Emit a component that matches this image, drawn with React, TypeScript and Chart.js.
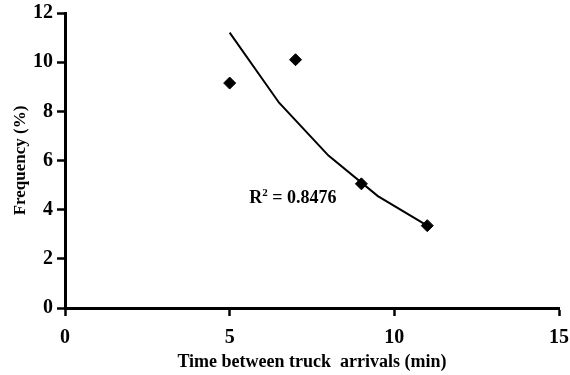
import React, { useEffect, useRef } from "react";
import { Chart, registerables } from "chart.js";

Chart.register(...registerables);

const arrivalTimes = [5, 7, 9, 11];
const frequencies = [9.15, 10.1, 5.05, 3.35];
const trendTimes = [5, 6.5, 8, 9.5, 11];
const trendFrequencies = [11.2, 8.35, 6.2, 4.55, 3.35];
const xTickStep = 5;
const yTickStep = 2;
const r2Label = { base: "R", sup: "2", rest: " = 0.8476", x: 6.92, y: 4.46 };

const FONT = "'Liberation Serif', 'Times New Roman', serif";

const r2Plugin = {
  id: "r2Label",
  afterDatasetsDraw(chart: any) {
    const { ctx, scales } = chart;
    const cx = scales.x.getPixelForValue(r2Label.x);
    const cy = scales.y.getPixelForValue(r2Label.y);
    ctx.save();
    ctx.fillStyle = "#000";
    ctx.textBaseline = "middle";
    const mainFont = `bold 18px ${FONT}`;
    const supFont = `bold 11px ${FONT}`;
    ctx.font = mainFont;
    const wBase = ctx.measureText(r2Label.base).width;
    const wRest = ctx.measureText(r2Label.rest).width;
    ctx.font = supFont;
    const wSup = ctx.measureText(r2Label.sup).width;
    const total = wBase + wSup + wRest;
    let x = cx - total / 2;
    ctx.textAlign = "left";
    ctx.font = mainFont;
    ctx.fillText(r2Label.base, x, cy);
    x += wBase;
    ctx.font = supFont;
    ctx.fillText(r2Label.sup, x, cy - 5);
    x += wSup;
    ctx.font = mainFont;
    ctx.fillText(r2Label.rest, x, cy);
    ctx.restore();
  },
};

export default function App() {
  const ref = useRef<HTMLCanvasElement | null>(null);

  useEffect(() => {
    if (!ref.current) return;
    const chart = new Chart(ref.current, {
      type: "scatter",
      data: {
        datasets: [
          {
            label: "Frequency",
            data: arrivalTimes.map((x, i) => ({ x, y: frequencies[i] })),
            pointStyle: "rectRot",
            pointRadius: 6,
            pointBackgroundColor: "#000",
            pointBorderColor: "#000",
            showLine: false,
            order: 1,
          },
          {
            label: "Trend",
            data: trendTimes.map((x, i) => ({ x, y: trendFrequencies[i] })),
            showLine: true,
            borderColor: "#000",
            borderWidth: 2,
            pointRadius: 0,
            tension: 0,
            order: 2,
          },
        ],
      },
      options: {
        responsive: false,
        animation: false,
        layout: { padding: { top: 13, right: 11, left: 0, bottom: 0 } },
        plugins: {
          legend: { display: false },
          tooltip: { enabled: false },
        },
        scales: {
          x: {
            type: "linear",
            min: 0,
            max: 15,
            afterFit(scale: any) {
              scale.height = 67;
              scale.paddingLeft = 0;
              scale.paddingRight = 0;
            },
            ticks: {
              stepSize: xTickStep,
              color: "#000",
              padding: 10,
              font: { family: FONT, size: 20, weight: "bold" },
            },
            grid: {
              display: true,
              drawOnChartArea: false,
              drawTicks: true,
              tickLength: 8,
              tickWidth: 2.5,
              tickColor: "#000",
            },
            border: { display: true, color: "#000", width: 3 },
            title: {
              display: true,
              text: "Time between truck  arrivals (min)",
              color: "#000",
              font: { family: FONT, size: 18, weight: "bold" },
              padding: { top: 0, bottom: 2 },
            },
          },
          y: {
            type: "linear",
            min: 0,
            max: 12,
            afterFit(scale: any) {
              scale.width = 65;
              scale.paddingTop = 0;
              scale.paddingBottom = 0;
            },
            ticks: {
              stepSize: yTickStep,
              color: "#000",
              padding: 4,
              font: { family: FONT, size: 20, weight: "bold" },
            },
            grid: {
              display: true,
              drawOnChartArea: false,
              drawTicks: true,
              tickLength: 8,
              tickWidth: 2.5,
              tickColor: "#000",
            },
            border: { display: true, color: "#000", width: 3 },
            title: {
              display: true,
              text: "Frequency (%)",
              color: "#000",
              font: { family: FONT, size: 17, weight: "bold" },
              padding: { top: 10, bottom: 0 },
            },
          },
        },
      },
      plugins: [r2Plugin],
    });
    return () => chart.destroy();
  }, []);

  return (
    <div style={{ position: "fixed", left: 0, top: 0, width: 570, height: 375, background: "#fff" }}>
      <canvas ref={ref} width={570} height={375} />
    </div>
  );
}
